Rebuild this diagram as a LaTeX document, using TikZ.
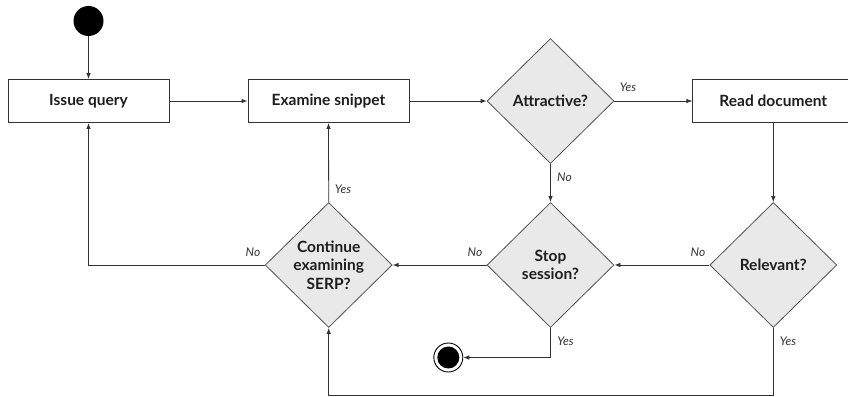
\documentclass[tikz,border=0pt]{standalone}
\usepackage{fontspec}
\setmainfont{Lato}
\usetikzlibrary{shapes.geometric,arrows.meta}
\definecolor{ln}{HTML}{333333}
\definecolor{dfill}{HTML}{E9E9E9}
\definecolor{txt}{HTML}{1E1E1E}
\tikzset{
  box/.style={draw=ln, line width=0.8pt, fill=white, minimum width=161pt, minimum height=43pt, inner sep=0pt,
    font=\fontsize{15.5}{18}\selectfont\bfseries, text=txt},
  dia/.style={draw=ln!85, line width=0.8pt, fill=dfill, diamond, aspect=1, minimum width=127pt, minimum height=125pt, inner sep=0pt,
    align=center, font=\fontsize{15.5}{18.5}\selectfont\bfseries, text=txt},
  arr/.style={draw=ln, line width=0.8pt, -{Latex[length=6pt,width=4.5pt]}},
  plain/.style={draw=ln, line width=0.8pt},
  lbl/.style={font=\fontsize{12}{14}\selectfont\itshape, text=ln, inner sep=0pt},
}
\begin{document}
\begin{tikzpicture}[x=1pt, y=-1pt]
\useasboundingbox (0,0) rectangle (848,396);
% nodes
\node[circle, fill=black, minimum size=30pt, inner sep=0pt] (start) at (88.5,21) {};
\node[box] (issue) at (88.5,101) {Issue query};
\node[box] (exam) at (328.5,101) {Examine snippet};
\node[dia] (att) at (550.5,101) {Attractive?};
\node[box] (read) at (773.3,101) {Read document};
\node[dia] (rel) at (773.3,265) {Relevant?};
\node[dia] (stop) at (550.5,265) {Stop\\session?};
\node[dia] (cont) at (328.7,265) {Continue\\examining\\SERP?};
\node[circle, draw=black, line width=0.9pt, fill=white, minimum size=29pt, inner sep=0pt] (endc) at (448.3,357.5) {};
\node[circle, fill=black, minimum size=22pt, inner sep=0pt] (endin) at (endc) {};
\coordinate (brc) at (773.3,395);
\coordinate (blc) at (328.7,395);
% connectors
\draw[arr] (start) -- (issue);
\draw[arr] (issue) -- (exam);
\draw[arr] (exam) -- (att);
\draw[arr] (att.east) -- (read.west);
\draw[arr] (att.south) -- (stop.north);
\draw[arr] (read.south) -- (rel.north);
\draw[arr] (rel.west) -- (stop.east);
\draw[arr] (stop.west) -- (cont.east);
\draw[arr] (cont.north) -- (exam.south);
\draw[arr] (cont.west) -| (issue.south);
\draw[arr] (stop.south) |- (endc.east);
\draw[arr] (rel.south) -- (brc) -- (blc) -- (cont.south);
% labels
\node[lbl] (l1) at (628,87) {Yes};
\node[lbl] (l2) at (564.5,177) {No};
\node[lbl] (l3) at (343,189) {Yes};
\node[lbl] (l4) at (253,252) {No};
\node[lbl] (l5) at (475,252) {No};
\node[lbl] (l6) at (698,252) {No};
\node[lbl] (l7) at (565.6,341) {Yes};
\node[lbl] (l8) at (788,341) {Yes};
\end{tikzpicture}
\end{document}
